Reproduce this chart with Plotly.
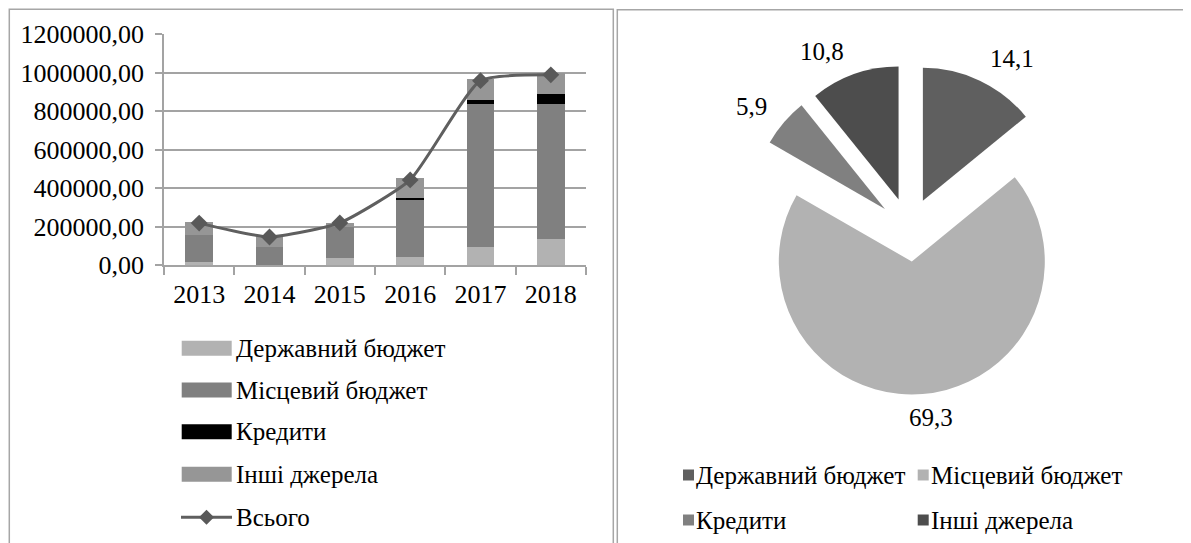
import math
import plotly.graph_objects as go

# ---------------- data ----------------
years = ["2013", "2014", "2015", "2016", "2017", "2018"]
state_budget = [15000, 0, 36000, 45000, 97000, 138000]
local_budget = [142000, 97000, 161000, 294000, 740000, 697000]
credits = [0, 0, 0, 8000, 20000, 52000]
other_sources = [66000, 60000, 24000, 104000, 109000, 109000]
total = [219000, 147000, 220000, 443000, 958000, 988000]

series_names = ["Державний бюджет", "Місцевий бюджет", "Кредити", "Інші джерела"]
total_name = "Всього"
bar_colors = ["#b2b2b2", "#808080", "#000000", "#969696"]

pie_labels = ["Державний бюджет", "Місцевий бюджет", "Кредити", "Інші джерела"]
pie_values = [14.1, 69.3, 5.9, 10.8]
pie_colors = ["#5f5f5f", "#b2b2b2", "#808080", "#4d4d4d"]

y_ticks = [0, 200000, 400000, 600000, 800000, 1000000, 1200000]

# ---------------- layout helpers ----------------
OFF = 8  # page body margin
W, H = 1191 - OFF, 543 - OFF
FONT = "Liberation Serif"
GRID = "#a3a3a3"
TXT = "#000000"


def px(x):
    return (x - OFF) / W


def py(y):
    return 1 - (y - OFF) / H


fig = go.Figure()

series = [state_budget, local_budget, credits, other_sources]
for name, vals, col in zip(series_names, series, bar_colors):
    fig.add_trace(go.Bar(x=years, y=vals, name=name, marker=dict(color=col, line=dict(width=0)),
                         showlegend=False, xaxis="x", yaxis="y"))

fig.add_trace(go.Scatter(x=years, y=total, name=total_name, mode="lines+markers",
                         line=dict(color="#5f5f5f", width=3, shape="spline", smoothing=0.5),
                         marker=dict(symbol="diamond", size=13, color="#595959"),
                         showlegend=False, xaxis="x", yaxis="y"))

# pie geometry (pixels)
PIE_CX, PIE_CY, PIE_R, PULL = 909.2, 229.7, 133.0, 0.24
half = PIE_R * (1 + PULL)
fig.add_trace(go.Pie(labels=pie_labels, values=pie_values, sort=False, direction="clockwise",
                     rotation=0, pull=PULL, marker=dict(colors=pie_colors, line=dict(width=0)),
                     textinfo="none", showlegend=False, automargin=False,
                     domain=dict(x=[px(PIE_CX - half), px(PIE_CX + half)],
                                 y=[py(PIE_CY + half), py(PIE_CY - half)])))

shapes = []
shapes.append(dict(type="rect", xref="paper", yref="paper", x0=px(9.3), x1=px(613.3), y0=py(548), y1=py(9.3),
                   line=dict(color="#a6a6a6", width=1.5), layer="below"))
shapes.append(dict(type="rect", xref="paper", yref="paper", x0=px(617.3), x1=px(1196), y0=py(548), y1=py(9.8),
                   line=dict(color="#a6a6a6", width=1.5), layer="below"))

annotations = []

# pie value labels, placed outside each (pulled) slice at its mid angle
tot = sum(pie_values)
cum = 0.0
for v in pie_values:
    mid = (cum + v / 2) / tot * 2 * math.pi
    cum += v
    s, c = math.sin(mid), math.cos(mid)
    rx = PIE_CX + half * s + 32 * max(-1.0, min(1.0, s / 0.3))
    ry = PIE_CY - half * c - 24 * c
    annotations.append(dict(x=px(rx), y=py(ry), xref="paper", yref="paper",
                            text=f"{v:.1f}".replace(".", ","), showarrow=False,
                            xanchor="center", yanchor="middle", borderpad=0,
                            font=dict(family=FONT, size=25, color=TXT)))

# bar-chart legend
leg_y = [348.3, 390, 431.7, 474.3, 517.3]
for i, (name, col) in enumerate(zip(series_names, bar_colors)):
    yc = leg_y[i]
    shapes.append(dict(type="rect", xref="paper", yref="paper", x0=px(181.7), x1=px(231.7),
                       y0=py(yc + 7.5), y1=py(yc - 7.5), line=dict(width=0), fillcolor=col))
    annotations.append(dict(x=px(235), y=py(yc), xref="paper", yref="paper", text=name, showarrow=False,
                            xanchor="left", yanchor="middle", borderpad=0,
                            font=dict(family=FONT, size=25, color=TXT)))
yc = leg_y[4]
shapes.append(dict(type="line", xref="paper", yref="paper", x0=px(181), x1=px(232), y0=py(yc), y1=py(yc),
                   line=dict(color="#5f5f5f", width=3)))
cx = 206.5
d = 7.5
shapes.append(dict(type="path", xref="paper", yref="paper",
                   path=f"M {px(cx - d)} {py(yc)} L {px(cx)} {py(yc - d)} L {px(cx + d)} {py(yc)} L {px(cx)} {py(yc + d)} Z",
                   fillcolor="#595959", line=dict(width=0)))
annotations.append(dict(x=px(235), y=py(yc), xref="paper", yref="paper", text=total_name, showarrow=False,
                        xanchor="left", yanchor="middle", borderpad=0,
                        font=dict(family=FONT, size=25, color=TXT)))

# pie legend
pie_leg_pos = [(683, 475), (917.7, 475), (683, 520), (917.7, 520)]
for (x0, yc), name, col in zip(pie_leg_pos, pie_labels, pie_colors):
    shapes.append(dict(type="rect", xref="paper", yref="paper", x0=px(x0), x1=px(x0 + 11),
                       y0=py(yc + 5.5), y1=py(yc - 5.5), line=dict(width=0), fillcolor=col))
    annotations.append(dict(x=px(x0 + 12), y=py(yc), xref="paper", yref="paper", text=name, showarrow=False,
                            xanchor="left", yanchor="middle", borderpad=0,
                            font=dict(family=FONT, size=25, color=TXT)))

fig.update_layout(
    template="none",
    width=W, height=H, autosize=False,
    margin=dict(l=0, r=0, t=0, b=0, pad=0, autoexpand=False),
    paper_bgcolor="white", plot_bgcolor="white",
    separators=", ",
    barmode="stack", bargap=0.61,
    showlegend=False,
    font=dict(family=FONT, size=25, color=TXT),
    xaxis=dict(domain=[px(164), px(586)], type="category", showgrid=False, showline=True, automargin=False,
               linecolor=GRID, linewidth=1.5, ticks="outside", tickson="boundaries", ticklen=8,
               tickcolor=GRID, tickwidth=1.5, ticklabelstandoff=5,
               tickfont=dict(family=FONT, size=26, color=TXT), anchor="y", fixedrange=True),
    yaxis=dict(domain=[py(265.3), py(34)], range=[0, 1200000], tickvals=y_ticks, tickformat=".2f",
               showgrid=True, gridcolor=GRID, gridwidth=1.5, showline=True, linecolor=GRID, linewidth=1.5,
               automargin=False, ticks="outside", ticklen=7, tickcolor=GRID, tickwidth=1.5, zeroline=False,
               ticklabelstandoff=6,
               tickfont=dict(family=FONT, size=26, color=TXT), anchor="x", fixedrange=True),
    shapes=shapes,
    annotations=annotations,
)

fig.write_html("out.html")
